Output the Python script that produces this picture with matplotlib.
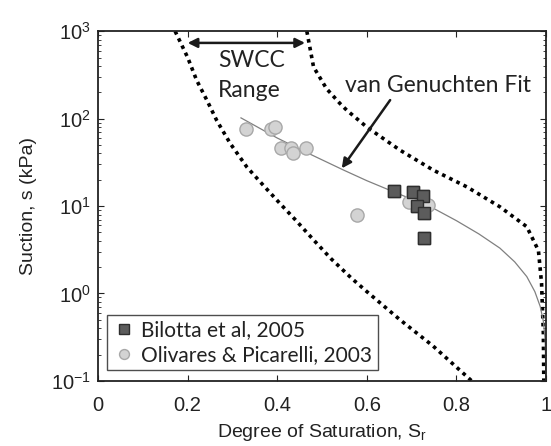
import matplotlib.pyplot as plt

# Bilotta et al, 2005 (squares)
bil_sr = [0.661, 0.702, 0.725, 0.713, 0.728, 0.728]
bil_s = [15.0, 14.5, 13.1, 10.0, 8.3, 4.3]

# Olivares & Picarelli, 2003 (circles)
oli_sr = [0.330, 0.386, 0.394, 0.408, 0.430, 0.436, 0.464, 0.578, 0.693, 0.737]
oli_s = [77, 77, 80, 46, 46, 40.6, 46, 7.9, 11.2, 10.3]

# van Genuchten fit
fit_sr = [0.319, 0.40, 0.462, 0.548, 0.60, 0.659, 0.70, 0.749, 0.80, 0.85, 0.897,
          0.93, 0.957, 0.975, 0.987, 0.994, 0.998, 1.0]
fit_s = [102, 60, 41.8, 25.8, 19.5, 14.6, 12.0, 9.4, 6.8, 4.8, 3.3,
         2.3, 1.56, 1.05, 0.71, 0.48, 0.30, 0.1]

# SWCC range bounds
low_sr = [0.172, 0.20, 0.22, 0.243, 0.265, 0.295, 0.332, 0.37, 0.406, 0.44, 0.481,
          0.52, 0.566, 0.60, 0.674, 0.748, 0.834]
low_s = [1000, 500, 275, 162, 95, 52, 28, 17, 10.7, 7.0, 4.1,
         2.5, 1.49, 1.05, 0.50, 0.25, 0.1]
up_sr = [0.466, 0.481, 0.51, 0.540, 0.555, 0.600, 0.674, 0.748, 0.823, 0.897, 0.957,
         0.983, 0.990, 0.994, 0.995]
up_s = [1000, 390, 220, 149, 125, 80, 43.6, 25.8, 16.6, 9.8, 5.8,
        3.1, 1.31, 0.35, 0.1]

plt.rcParams['font.family'] = ['Liberation Sans', 'DejaVu Sans']
plt.rcParams['mathtext.fontset'] = 'custom'
plt.rcParams['mathtext.rm'] = 'Liberation Sans'
plt.rcParams['mathtext.it'] = 'Liberation Sans:italic'
plt.rcParams['mathtext.default'] = 'regular'
calibri = ['Lato', 'DejaVu Sans']

fig = plt.figure(figsize=(5.51, 4.46), dpi=100)
ax = fig.add_axes([0.178, 0.146, 0.813, 0.784])

ax.plot(low_sr, low_s, color='black', lw=2.6, linestyle=(0, (1, 1.2)))
ax.plot(up_sr, up_s, color='black', lw=2.6, linestyle=(0, (1, 1.2)))
ax.plot(fit_sr, fit_s, color='#808080', lw=0.9)

ax.plot(bil_sr, bil_s, 's', ms=9, mfc='#5c5c5c', mec='#2e2e2e', mew=1.0,
        label='Bilotta et al, 2005')
ax.plot(oli_sr, oli_s, 'o', ms=9.5, mfc='#d3d3d3', mec='#a8a8a8', mew=1.0,
        label='Olivares & Picarelli, 2003')
# redraw squares on top of circles
ax.plot(bil_sr, bil_s, 's', ms=9, mfc='#5c5c5c', mec='#2e2e2e', mew=1.0)

ax.set_yscale('log')
ax.set_xlim(0, 1)
ax.set_ylim(0.1, 1000)
ax.set_xticks([0, 0.2, 0.4, 0.6, 0.8, 1])
ax.set_xticklabels(['0', '0.2', '0.4', '0.6', '0.8', '1'])
ax.tick_params(which='both', direction='in', top=True, right=True,
               labelsize=14.5, colors='#222222')
ax.tick_params(which='major', length=4, pad=5)
ax.tick_params(which='minor', length=2.5)
ax.tick_params(axis='x', which='major', pad=11)
for sp in ax.spines.values():
    sp.set_linewidth(1.3)
    sp.set_color('#222222')

ax.set_xlabel('Degree of Saturation, S$_\\mathregular{r}$', fontsize=14,
              color='#222222', labelpad=5)
ax.set_ylabel('Suction, s (kPa)', fontsize=14, color='#222222', labelpad=10)

# SWCC range arrow and label
ax.annotate('', xy=(0.20, 735), xytext=(0.462, 735),
            arrowprops=dict(arrowstyle='<|-|>', color='#1a1a1a', lw=1.8,
                            mutation_scale=14, shrinkA=0, shrinkB=0))
ax.text(0.268, 467, 'SWCC', ha='left', va='center', fontsize=16.5,
        family=calibri, color='#222222')
ax.text(0.268, 212, 'Range', ha='left', va='center', fontsize=16.5,
        family=calibri, color='#222222')

ax.text(0.551, 242, 'van Genuchten Fit', ha='left', va='center', fontsize=16.5,
        family=calibri, color='#222222')
ax.annotate('', xy=(0.544, 27), xytext=(0.652, 163),
            arrowprops=dict(arrowstyle='-|>', color='#1a1a1a', lw=1.8,
                            mutation_scale=14, shrinkA=0, shrinkB=0))

leg = ax.legend(loc='lower left', bbox_to_anchor=(0.02, 0.03), frameon=True,
                fancybox=False, edgecolor='#222222', handletextpad=0.3,
                borderpad=0.25, labelspacing=0.25, handlelength=1.1,
                prop={'family': calibri, 'size': 15}, markerscale=0.75,
                borderaxespad=0)
leg.get_frame().set_linewidth(1.0)
for t in leg.get_texts():
    t.set_color('#222222')

fig.savefig('out.png', dpi=100)
